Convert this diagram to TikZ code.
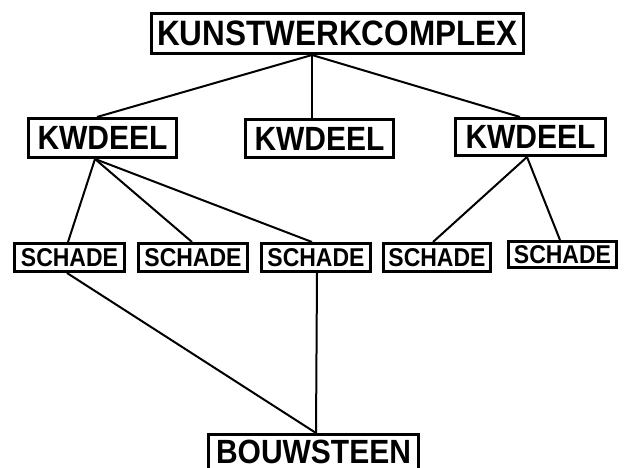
\documentclass[tikz,border=0pt]{standalone}
\usepackage{fontspec}
\usepackage{graphicx}
\setmainfont{Liberation Sans}
\usetikzlibrary{calc}
% slightly tall lettering
\newcommand{\tallword}[1]{\scalebox{1}[1.12]{#1}}
\tikzset{
  box/.style={draw, line width=3pt, inner sep=0pt, fill=white},
  big/.style={box, font=\fontsize{31.5}{34}\selectfont\bfseries},
  mid/.style={box, font=\fontsize{30}{32}\selectfont\bfseries},
  small/.style={box, font=\fontsize{23}{25}\selectfont\bfseries},
  link/.style={line width=2pt}
}
\begin{document}
\begin{tikzpicture}[x=1pt,y=-1pt]
\useasboundingbox (0,0) rectangle (624,468);

% hierarchy boxes
\node[big, minimum width=372pt, minimum height=40pt] (top) at (337.5,33.5) {\tallword{KUNSTWERKCOMPLEX}};

\node[mid, minimum width=148pt, minimum height=39pt] (kwa) at (102.5,138) {\tallword{KWDEEL}};
\node[mid, minimum width=148pt, minimum height=38pt] (kwb) at (319.5,138.5) {\tallword{KWDEEL}};
\node[mid, minimum width=150pt, minimum height=37pt] (kwc) at (530.5,137) {\tallword{KWDEEL}};

\node[small, minimum width=110pt, minimum height=28pt] (sa) at (69.5,257.5) {\tallword{SCHADE}};
\node[small, minimum width=109pt, minimum height=28pt] (sb) at (193,257.5) {\tallword{SCHADE}};
\node[small, minimum width=109pt, minimum height=28pt] (sc) at (316,257.5) {\tallword{SCHADE}};
\node[small, minimum width=107pt, minimum height=28pt] (sd) at (437,257.5) {\tallword{SCHADE}};
\node[small, minimum width=108pt, minimum height=26pt] (se) at (562.5,254.5) {\tallword{SCHADE}};

\node[mid, minimum width=210pt, minimum height=35pt] (bouw) at (313.5,452) {\tallword{BOUWSTEEN}};

% connectors
\coordinate (topfoot) at ($(top.south)+(-25.5,0)$);
\draw[link] (topfoot) -- ($(kwa.north)+(-5.5,0)$);
\draw[link] (topfoot) -- ($(kwb.north)+(-7.5,0)$);
\draw[link] (topfoot) -- ($(kwc.north)+(-10.5,0)$);

\coordinate (kwafoot) at ($(kwa.south)+(-7.5,0)$);
\draw[link] (kwafoot) -- ($(sa.north)+(-1.5,0)$);
\draw[link] (kwafoot) -- ($(sb.north)+(-1,0)$);
\draw[link] (kwafoot) -- ($(sc.north)+(-4,0)$);

\coordinate (kwcfoot) at ($(kwc.south)+(-3.5,0)$);
\draw[link] (kwcfoot) -- ($(sd.north)+(-4,0)$);
\draw[link] (kwcfoot) -- ($(se.north)+(-2.5,0)$);

\coordinate (bouwhead) at ($(bouw.north)+(2.5,0)$);
\draw[link] ($(sa.south)+(-2.5,0)$) -- (bouwhead);
\draw[link] ($(sc.south)+(1,0)$) -- (bouwhead);
\end{tikzpicture}
\end{document}
